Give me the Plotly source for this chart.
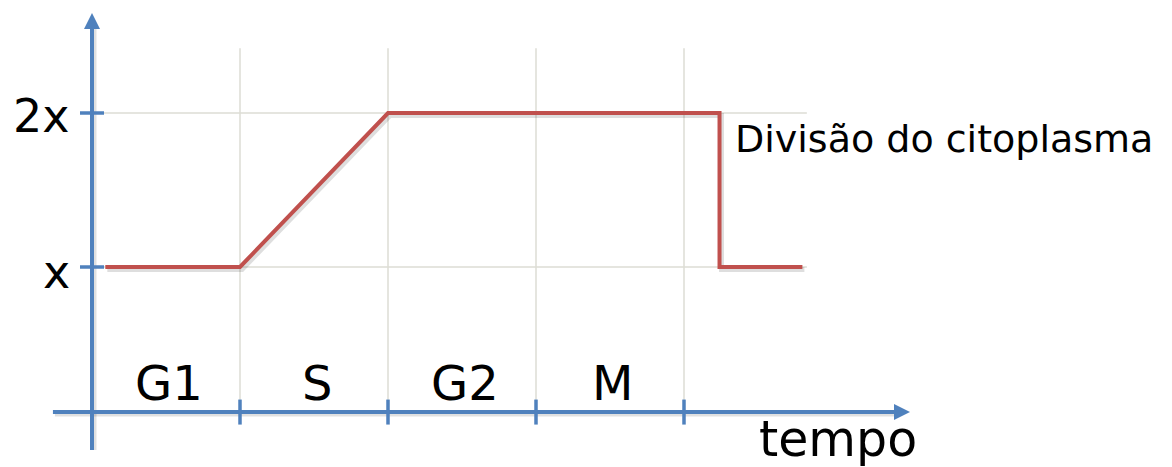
import plotly.graph_objects as go

# Cell-cycle phases and their boundaries along the time axis
phases = ["G1", "S", "G2", "M"]
phase_bounds = [0, 1, 2, 3, 4]

# DNA content per cell over time (in units of x)
dna_time = [0.09, 1.0, 2.0, 4.24, 4.24, 4.8]
dna_level = [1, 1, 2, 2, 1, 1]

# Level ticks on the vertical axis
level_vals = [1, 2]
level_text = ["x", "2x"]

AXIS_BLUE = "#4f81bd"
GRID = "#dcdcd4"
RED = "#c0504d"
FONT = "DejaVu Sans"

# Pixel scale of the data units (used for arrowheads and tick lengths)
PX_X = 148.0
PX_Y = 154.0

time_axis_y = 0.058     # level where the time axis crosses
t_axis_start, t_axis_end = -0.264, 5.527
v_axis_start, v_axis_end = -0.188, 2.649
grid_top = 2.42
hgrid_start, hgrid_end = 0.08, 4.83

shapes = []

# vertical gridlines at phase boundaries
for b in phase_bounds[1:]:
    shapes.append(dict(type="line", xref="x", yref="y", x0=b, x1=b,
                       y0=time_axis_y, y1=grid_top,
                       line=dict(color=GRID, width=1.5), layer="below"))
# horizontal gridlines at the DNA levels
for v in level_vals:
    shapes.append(dict(type="line", xref="x", yref="y", x0=hgrid_start, x1=hgrid_end,
                       y0=v, y1=v, line=dict(color=GRID, width=1.5), layer="below"))

# soft shadow of the axes
sh_dx, sh_dy = 2 / PX_X, -2 / PX_Y
shapes.append(dict(type="line", x0=t_axis_start + sh_dx, x1=t_axis_end - 14 / PX_X,
                   y0=time_axis_y + sh_dy, y1=time_axis_y + sh_dy,
                   line=dict(color="rgba(0,0,0,0.12)", width=5)))
shapes.append(dict(type="line", x0=sh_dx, x1=sh_dx,
                   y0=v_axis_start, y1=v_axis_end - 14 / PX_Y,
                   line=dict(color="rgba(0,0,0,0.12)", width=5)))

# time axis and vertical axis lines
shapes.append(dict(type="line", x0=t_axis_start, x1=t_axis_end - 14 / PX_X,
                   y0=time_axis_y, y1=time_axis_y,
                   line=dict(color=AXIS_BLUE, width=4)))
shapes.append(dict(type="line", x0=0, x1=0,
                   y0=v_axis_start, y1=v_axis_end - 14 / PX_Y,
                   line=dict(color=AXIS_BLUE, width=4)))

# arrowheads
ah_len, ah_half = 16, 8
tx, ty = t_axis_end, time_axis_y
shapes.append(dict(type="path", fillcolor=AXIS_BLUE, line=dict(width=0),
                   path=f"M {tx} {ty} L {tx - ah_len / PX_X} {ty + ah_half / PX_Y} "
                        f"L {tx - ah_len / PX_X} {ty - ah_half / PX_Y} Z"))
vx, vy = 0, v_axis_end
shapes.append(dict(type="path", fillcolor=AXIS_BLUE, line=dict(width=0),
                   path=f"M {vx} {vy} L {vx - ah_half / PX_X} {vy - ah_len / PX_Y} "
                        f"L {vx + ah_half / PX_X} {vy - ah_len / PX_Y} Z"))

# tick marks
tk_x, tk_y = 12 / PX_X, 12.5 / PX_Y
for b in phase_bounds[1:]:
    shapes.append(dict(type="line", x0=b, x1=b, y0=time_axis_y - tk_y, y1=time_axis_y + tk_y,
                       line=dict(color=AXIS_BLUE, width=3.5)))
for v in level_vals:
    shapes.append(dict(type="line", x0=-tk_x, x1=tk_x, y0=v, y1=v,
                       line=dict(color=AXIS_BLUE, width=3.5)))

fig = go.Figure()

# shadow under the DNA curve
fig.add_trace(go.Scatter(x=[t + 2 / PX_X for t in dna_time],
                         y=[v - 2.5 / PX_Y for v in dna_level],
                         mode="lines", line=dict(color="rgba(0,0,0,0.13)", width=5),
                         hoverinfo="skip", showlegend=False))
fig.add_trace(go.Scatter(x=dna_time, y=dna_level, mode="lines",
                         line=dict(color=RED, width=4), showlegend=False,
                         hoverinfo="skip"))

annotations = []
for v, t in zip(level_vals, level_text):
    annotations.append(dict(x=-0.135, y=v, text=t, showarrow=False, xanchor="right",
                            yanchor="middle", yshift=-5 if t == "x" else -3,
                            font=dict(family=FONT, size=46, color="black")))
for i, p in enumerate(phases):
    annotations.append(dict(x=(phase_bounds[i] + phase_bounds[i + 1]) / 2 + 0.02, y=0.25,
                            text=p, showarrow=False, xanchor="center", yanchor="middle",
                            font=dict(family=FONT, size=48, color="black")))
annotations.append(dict(x=4.33, y=1.83, text="Divisão do citoplasma", showarrow=False,
                        xanchor="left", yanchor="middle",
                        font=dict(family=FONT, size=38, color="black")))
annotations.append(dict(x=4.49, y=-0.12, text="tempo", showarrow=False,
                        xanchor="left", yanchor="middle",
                        font=dict(family=FONT, size=49, color="black")))

fig.update_layout(
    width=1172, height=467,
    margin=dict(l=0, r=0, t=0, b=0),
    paper_bgcolor="white", plot_bgcolor="white",
    xaxis=dict(range=[-92 / PX_X, (1172 - 92) / PX_X], visible=False, fixedrange=True),
    yaxis=dict(range=[-46 / PX_Y, 421 / PX_Y], visible=False, fixedrange=True),
    shapes=shapes, annotations=annotations,
)

fig.write_html("out.html")
